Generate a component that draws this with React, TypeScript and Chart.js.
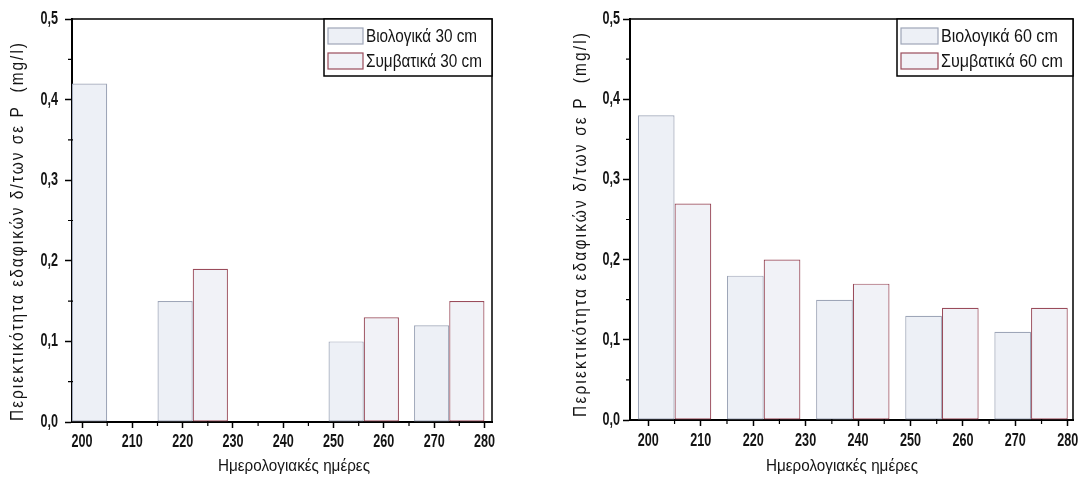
import React, { useEffect, useRef } from 'react';
import { Chart, registerables } from 'chart.js';

Chart.register(...registerables);

// ---------- data ----------
const days = [205, 222, 239, 256, 273];
const bio30 = [0.42, 0.15, 0, 0.1, 0.12];
const conv30 = [0, 0.19, 0, 0.13, 0.15];
const bio60 = [0.38, 0.18, 0.15, 0.13, 0.11];
const conv60 = [0.27, 0.2, 0.17, 0.14, 0.14];
const xTickValues = [200, 210, 220, 230, 240, 250, 260, 270, 280];
const yTickValues = [0, 0.1, 0.2, 0.3, 0.4, 0.5];
const legend30 = ['Βιολογικά 30 cm', 'Συμβατικά 30 cm'];
const legend60 = ['Βιολογικά 60 cm', 'Συμβατικά 60 cm'];
const yTitleText = 'Περιεκτικότητα εδαφικών δ/των σε P  (mg/l)';
const xTitleText = 'Ημερολογιακές ημέρες';

// ---------- style ----------
const W = 540;
const H = 479;
const BAR_DAYS = 7; // width of one bar in day units
const TICK_STEP = 10;
const BIO_FILL = '#edf0f6';
const BIO_EDGE = '#9ea6b8';
const CONV_FILL = '#f1f2f7';
const CONV_EDGE = '#9a4c5b';
const TEXT = '#141414';
const SANS = '"Liberation Sans", Arial, sans-serif';
const TICK_FONT = `bold 18px ${SANS}`;
const TICK_SX = 0.7;

function drawText(ctx: CanvasRenderingContext2D, text: string, x: number, y: number, font: string, sx: number, align: CanvasTextAlign) {
  ctx.save();
  ctx.font = font;
  ctx.textAlign = align;
  ctx.textBaseline = 'middle';
  ctx.translate(x, y);
  ctx.scale(sx, 1);
  ctx.fillText(text, 0, 0);
  ctx.restore();
}

const fmtY = (v: number) => v.toFixed(1).replace('.', ',');

const decor = {
  id: 'panelDecor',
  afterDraw(chart: any, _args: any, o: any) {
    const { ctx, chartArea: a, scales } = chart;
    const xs = scales.x;
    const ys = scales.y;
    ctx.save();
    // frame (top & right)
    ctx.strokeStyle = '#000';
    ctx.lineWidth = 1.5;
    ctx.beginPath();
    ctx.moveTo(a.left, a.top);
    ctx.lineTo(a.right, a.top);
    ctx.lineTo(a.right, a.bottom);
    ctx.stroke();
    // minor ticks
    ctx.lineWidth = 1.2;
    ctx.beginPath();
    for (let i = 0; i < xTickValues.length - 1; i++) {
      const px = xs.getPixelForValue((xTickValues[i] + xTickValues[i + 1]) / 2);
      ctx.moveTo(px, a.bottom - 1);
      ctx.lineTo(px, a.bottom + 4);
    }
    for (let i = 0; i < yTickValues.length - 1; i++) {
      const py = ys.getPixelForValue((yTickValues[i] + yTickValues[i + 1]) / 2);
      ctx.moveTo(a.left + 1, py);
      ctx.lineTo(a.left - 4, py);
    }
    ctx.stroke();

    // tick labels (condensed, from the scales' own ticks)
    ctx.fillStyle = TEXT;
    xs.ticks.forEach((t: any) => {
      drawText(ctx, String(t.value), xs.getPixelForValue(t.value), o.xLabelY, TICK_FONT, TICK_SX, 'center');
    });
    ys.ticks.forEach((t: any) => {
      drawText(ctx, fmtY(t.value), a.left - o.labelGap, ys.getPixelForValue(t.value), TICK_FONT, TICK_SX, 'right');
    });

    // legend
    const lfont = `${o.legendSize}px ${SANS}`;
    ctx.font = lfont;
    const labels: string[] = chart.data.datasets.map((d: any) => d.label);
    const mw = Math.max(...labels.map((l) => ctx.measureText(l).width));
    const lsx = o.legendTextW / mw;
    const sw = o.swatchW;
    const boxW = 4 + sw + 3 + o.legendTextW + 10;
    const boxH = 57;
    const bx = a.right - boxW;
    const by = a.top;
    ctx.fillStyle = '#fff';
    ctx.fillRect(bx, by, boxW, boxH);
    ctx.strokeStyle = '#000';
    ctx.lineWidth = 1.5;
    ctx.strokeRect(bx, by, boxW, boxH);
    chart.data.datasets.forEach((d: any, i: number) => {
      const cy = by + 17 + i * 25;
      ctx.fillStyle = d.backgroundColor;
      ctx.fillRect(bx + 4, cy - 8, sw, 16);
      ctx.strokeStyle = d.borderColor;
      ctx.lineWidth = 1.2;
      ctx.strokeRect(bx + 4, cy - 8, sw, 16);
      ctx.fillStyle = TEXT;
      drawText(ctx, d.label, bx + 4 + sw + 3, cy + 1, lfont, lsx, 'left');
    });

    // x title
    ctx.fillStyle = TEXT;
    const tfont = `${o.titleSize}px ${SANS}`;
    ctx.font = tfont;
    const xw = ctx.measureText(xTitleText).width;
    drawText(ctx, xTitleText, o.xTitleX, o.xTitleY, tfont, o.xTitleW / xw, 'center');

    // y title (rotated, condensed glyphs with letter spacing)
    ctx.save();
    const yfont = `${o.titleSize + 0.5}px ${SANS}`;
    ctx.font = yfont;
    ctx.textAlign = 'center';
    ctx.textBaseline = 'middle';
    const w0 = ctx.measureText(yTitleText).width;
    const n = Array.from(yTitleText).length;
    const ysx = 0.88;
    const sp = Math.max(0, (o.yTitleLen / ysx - w0) / n);
    ctx.translate(o.yTitleX, o.yTitleY);
    ctx.rotate(-Math.PI / 2);
    ctx.scale(ysx, 1);
    (ctx as any).letterSpacing = `${sp}px`;
    ctx.fillText(yTitleText, sp / 2, 0);
    ctx.restore();

    ctx.restore();
  },
};

type PanelCfg = {
  left: number; right: number; top: number; bottom: number;
  xMin: number; xMax: number; labelGap: number; xLabelY: number;
  yTitleX: number; yTitleY: number; yTitleLen: number;
  xTitleX: number; xTitleY: number; xTitleW: number; titleSize: number;
  legendSize: number; legendTextW: number; swatchW: number;
};

function Panel({ bio, conv, legend, cfg, offsetX }: { bio: number[]; conv: number[]; legend: string[]; cfg: PanelCfg; offsetX: number }) {
  const ref = useRef<HTMLCanvasElement | null>(null);
  useEffect(() => {
    if (!ref.current) return;
    const catPct = (2 * BAR_DAYS) / TICK_STEP;
    const chart = new Chart(ref.current, {
      type: 'bar',
      data: {
        datasets: [
          {
            label: legend[0],
            data: days.map((d, i) => ({ x: d, y: bio[i] })),
            backgroundColor: BIO_FILL,
            borderColor: BIO_EDGE,
            borderWidth: 1.2,
            borderSkipped: false,
            categoryPercentage: catPct,
            barPercentage: 1,
          },
          {
            label: legend[1],
            data: days.map((d, i) => ({ x: d, y: conv[i] })),
            backgroundColor: CONV_FILL,
            borderColor: CONV_EDGE,
            borderWidth: 1.2,
            borderSkipped: false,
            categoryPercentage: catPct,
            barPercentage: 1,
          },
        ] as any,
      },
      options: {
        responsive: false,
        animation: false,
        devicePixelRatio: 1,
        layout: { padding: { top: cfg.top, right: W - cfg.right, left: 0, bottom: 0 } },
        plugins: {
          legend: { display: false },
          tooltip: { enabled: false },
          panelDecor: cfg,
        } as any,
        scales: {
          x: {
            type: 'linear',
            min: cfg.xMin,
            max: cfg.xMax,
            offset: false,
            afterBuildTicks: (s: any) => { s.ticks = xTickValues.map((v) => ({ value: v })); },
            afterFit: (s: any) => { s.height = H - cfg.bottom; },
            grid: { offset: false, drawOnChartArea: false, drawTicks: true, tickLength: 6, tickWidth: 1.5, tickColor: '#000' },
            border: { display: true, color: '#000', width: 2 },
            ticks: { display: false },
          },
          y: {
            type: 'linear',
            min: 0,
            max: 0.5,
            afterBuildTicks: (s: any) => { s.ticks = yTickValues.map((v) => ({ value: v })); },
            afterFit: (s: any) => { s.width = cfg.left; },
            grid: { drawOnChartArea: false, drawTicks: true, tickLength: 7, tickWidth: 1.5, tickColor: '#000' },
            border: { display: true, color: '#000', width: 2 },
            ticks: { display: false },
          },
        } as any,
      },
      plugins: [decor],
    });
    return () => chart.destroy();
  }, []);
  return (
    <canvas
      ref={ref}
      width={W}
      height={H}
      style={{ position: 'absolute', left: offsetX, top: 0, width: W, height: H, display: 'block' }}
    />
  );
}

const leftCfg: PanelCfg = {
  left: 72, right: 492, top: 19, bottom: 422, xMin: 198, xMax: 281.5, labelGap: 14, xLabelY: 442,
  yTitleX: 18, yTitleY: 232, yTitleLen: 380, xTitleX: 294, xTitleY: 466, xTitleW: 152, titleSize: 17,
  legendSize: 18, legendTextW: 116, swatchW: 35,
};
const rightCfg: PanelCfg = {
  left: 90, right: 533, top: 19, bottom: 420, xMin: 196.5, xMax: 281, labelGap: 10, xLabelY: 441,
  yTitleX: 41, yTitleY: 225, yTitleLen: 386, xTitleX: 302, xTitleY: 466, xTitleW: 152, titleSize: 17,
  legendSize: 18.5, legendTextW: 122, swatchW: 37,
};

export default function App() {
  return (
    <div style={{ position: 'fixed', left: 0, top: 0, width: 1080, height: 479, background: '#fff', overflow: 'hidden' }}>
      <Panel bio={bio30} conv={conv30} legend={legend30} cfg={leftCfg} offsetX={0} />
      <Panel bio={bio60} conv={conv60} legend={legend60} cfg={rightCfg} offsetX={540} />
    </div>
  );
}
